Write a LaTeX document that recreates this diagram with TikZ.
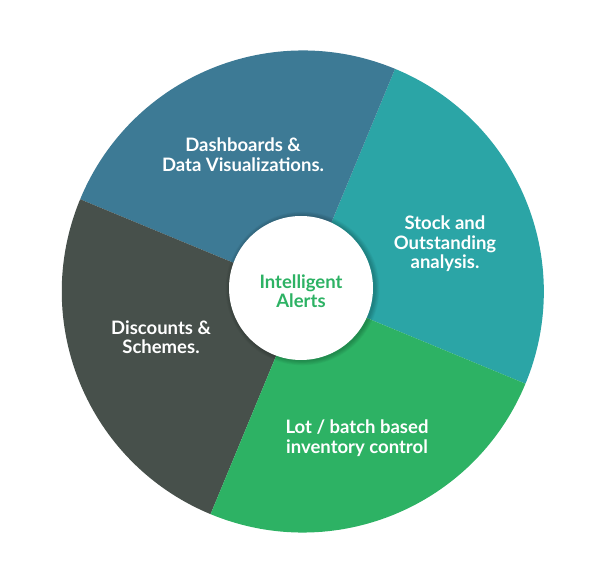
\documentclass[tikz,border=0pt]{standalone}
\usepackage{fontspec}
\setmainfont{Lato}
\definecolor{segblue}{HTML}{3D7A95}
\definecolor{segteal}{HTML}{2BA5A6}
\definecolor{seggreen}{HTML}{2DB264}
\definecolor{seggray}{HTML}{47504B}
\definecolor{txtgreen}{HTML}{2DB264}
\tikzset{
  lbl/.style={text=white, font=\fontsize{18.5}{19.5}\selectfont\bfseries, align=center, inner sep=0pt},
  clbl/.style={text=txtgreen, font=\fontsize{18.5}{19.5}\selectfont\bfseries, align=center, inner sep=0pt}
}
\begin{document}
\begin{tikzpicture}[x=1pt,y=1pt]
\useasboundingbox (0,0) rectangle (605,586);
\coordinate (c) at (302.8,294.5);
\coordinate (ic) at (301,298);
\def\R{241}
\fill[segteal] (c) -- ++(-22.5:\R) arc[start angle=-22.5, end angle=67.5, radius=\R] -- cycle;
\fill[segblue] (c) -- ++(67.5:\R) arc[start angle=67.5, end angle=157.5, radius=\R] -- cycle;
\fill[seggray] (c) -- ++(157.5:\R) arc[start angle=157.5, end angle=247.5, radius=\R] -- cycle;
\fill[seggreen] (c) -- ++(247.5:\R) arc[start angle=247.5, end angle=337.5, radius=\R] -- cycle;
% soft shadow of the centre disc
\foreach \k in {6,5,4,3,2,1}{
  \fill[black, opacity=0.035] ([shift={(1.5,-0.5)}]ic) circle[radius=72+\k*0.8];
}
\fill[white] (ic) circle[radius=72];
\node[clbl] (center) at (301,295) {Intelligent\\Alerts};
\node[lbl] (dash) at (243,431.5) {Dashboards \&\\Data Visualizations.};
\node[lbl] (stock) at (445,342) {Stock and\\Outstanding\\analysis.};
\node[lbl] (disc) at (161,249) {Discounts \&\\Schemes.};
\node[lbl] (lot) at (357,148) {Lot / batch based\\inventory control};
\end{tikzpicture}
\end{document}
